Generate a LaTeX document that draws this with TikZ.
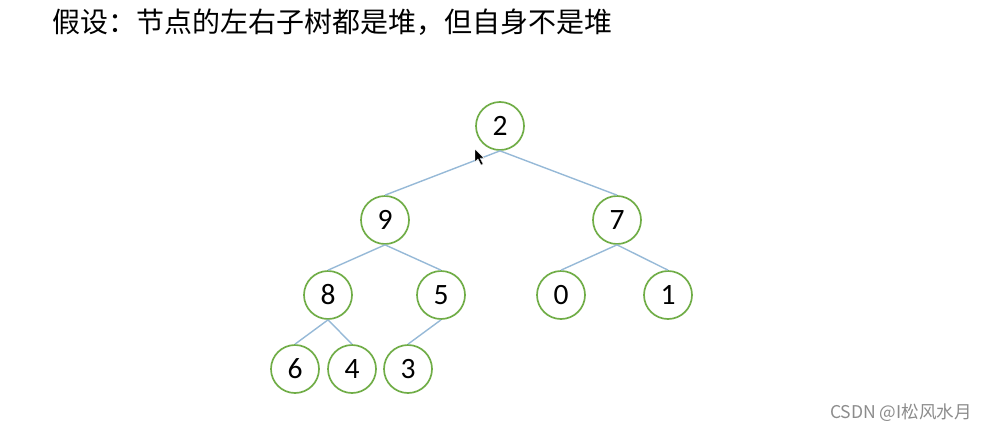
\documentclass[tikz,border=0pt]{standalone}
\usepackage{fontspec}
\setmainfont{Carlito}
\newfontfamily\cjk{Noto Sans CJK SC}
\usetikzlibrary{positioning}
\definecolor{heapgreen}{RGB}{112,173,71}
\definecolor{edgeblue}{RGB}{150,185,215}
\begin{document}
\begin{tikzpicture}[x=0.025cm,y=-0.025cm,
    heapnode/.style={circle,draw=heapgreen,line width=1.2pt,fill=white,
      minimum size=1.2cm,inner sep=0pt,font=\fontsize{21}{25}\selectfont},
    heapedge/.style={draw=edgeblue,line width=1pt}]
    \useasboundingbox (0,0) rectangle (991,434);
    \node[anchor=west,font=\cjk\fontsize{19.9}{23}\selectfont] (title) at (48,22)
      {假设：节点的左右子树都是堆，但自身不是堆};
    \foreach \x/\y/\lab/\val in {500/126/n2/2,385/220/n9/9,617/220/n7/7,
      328/295/n8/8,441/295/n5/5,561/295/n0/0,668/295/n1/1,
      295/369/n6/6,352/369/n4/4,408/369/n3/3} {
      \node[heapnode] (\lab) at (\x,\y) {\val};
    }
    \path[heapedge] (n2.south) edge (n9.north);
    \path[heapedge] (n2.south) edge (n7.north);
    \path[heapedge] (n9.south) edge (n8.north);
    \path[heapedge] (n9.south) edge (n5.north);
    \path[heapedge] (n7.south) edge (n0.north);
    \path[heapedge] (n7.south) edge (n1.north);
    \path[heapedge] (n8.south) edge (n6.north);
    \path[heapedge] (n8.south) edge (n4.north);
    \path[heapedge] (n5.south) edge (n3.north);
    % mouse pointer
    \filldraw[fill=black,draw=white,line width=0.3pt]
      (475,149) -- (475,162) -- (478,159) -- (481,165) -- (483,164)
      -- (480,158) -- (484,158) -- cycle;
    \node[anchor=east,text=black!45,font=\cjk\fontsize{12.5}{15}\selectfont] (mark) at (977,413)
      {CSDN @I松风水月};
\end{tikzpicture}
\end{document}
